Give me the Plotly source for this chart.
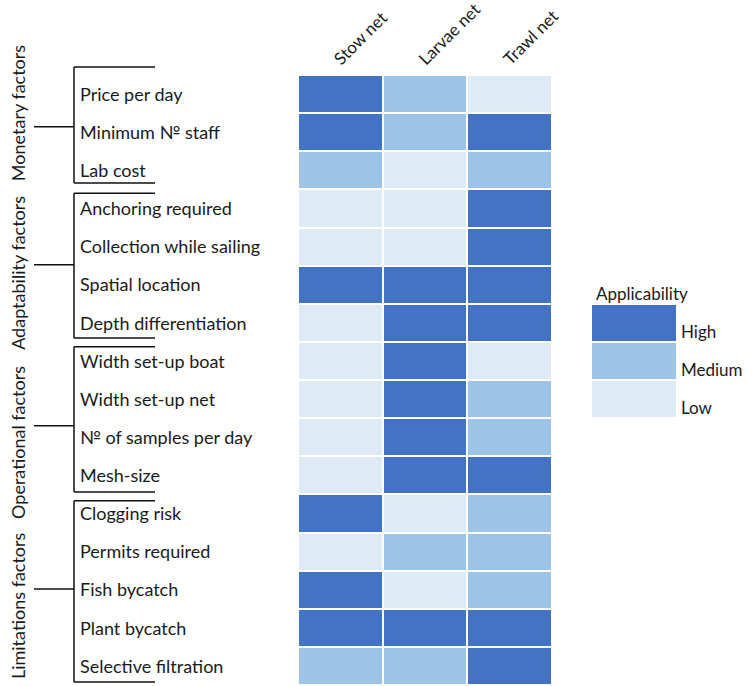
import plotly.graph_objects as go

# ---------------- data ----------------
columns = ["Stow net", "Larvae net", "Trawl net"]
factors = [
    "Price per day", "Minimum № staff", "Lab cost",
    "Anchoring required", "Collection while sailing", "Spatial location", "Depth differentiation",
    "Width set-up boat", "Width set-up net", "№ of samples per day", "Mesh-size",
    "Clogging risk", "Permits required", "Fish bycatch", "Plant bycatch", "Selective filtration",
]
# 3 = High, 2 = Medium, 1 = Low
stow_net   = [3, 3, 2, 1, 1, 3, 1, 1, 1, 1, 1, 3, 1, 3, 3, 2]
larvae_net = [2, 2, 1, 1, 1, 3, 3, 3, 3, 3, 3, 1, 2, 1, 3, 2]
trawl_net  = [1, 3, 2, 3, 3, 3, 3, 1, 2, 2, 3, 2, 2, 2, 3, 3]

groups = ["Monetary factors", "Adaptability factors", "Operational factors", "Limitations factors"]

levels = ["High", "Medium", "Low"]
level_values = [3, 2, 1]

# ---------------- styling / layout constants ----------------
W, H = 746, 686
C_HIGH, C_MED, C_LOW = "#4472C4", "#9DC3E6", "#DEEBF7"
FONT = "Lato"
TXT = "#1a1a1a"

hm_left, hm_right, hm_top, hm_bot = 298, 552, 75, 685
hm_dom_x = [hm_left / W, hm_right / W]
hm_dom_y = [(H - hm_bot) / H, (H - hm_top) / H]
n_rows = len(factors)
row_h = (hm_bot - hm_top) / n_rows

def px_to_row(p):
    return (p - hm_top) / row_h - 0.5

# bracket geometry (row units / pixel x)
br_top = [-0.71, 2.60, 6.63, 10.67]
br_bot = [2.33, 6.40, 10.44, 15.42]
br_mid = [0.86, 4.48, 8.70, 12.98]
grp_lab_y = [0.50, 4.69, 9.15, 13.43]
x_vert, x_hend, x_tick0, x_lab, x_glab = 74, 155, 34, 80, 18
lab_dy = 0.06

z = [[s, l, t] for s, l, t in zip(stow_net, larvae_net, trawl_net)]
cscale = [[0, C_LOW], [0.5, C_MED], [1, C_HIGH]]

fig = go.Figure()

fig.add_trace(go.Heatmap(
    z=z, x=list(range(len(columns))), y=list(range(n_rows)),
    zmin=1, zmax=3, colorscale=cscale, showscale=False,
    xgap=2, ygap=2, xaxis="x", yaxis="y", hoverinfo="skip",
))

# row labels on left panel
fig.add_trace(go.Scatter(
    x=[x_lab] * n_rows, y=[i + lab_dy for i in range(n_rows)], text=factors,
    mode="text", textposition="middle right",
    textfont=dict(family=FONT, size=18, color=TXT),
    xaxis="x2", yaxis="y2", hoverinfo="skip", showlegend=False,
))

# legend swatches
fig.add_trace(go.Heatmap(
    z=[[v] for v in level_values], x=[0], y=list(range(len(levels))),
    zmin=1, zmax=3, colorscale=cscale, showscale=False,
    ygap=2, xaxis="x3", yaxis="y3", hoverinfo="skip",
))

shapes = []
line = dict(color="#111111", width=1.5)
for i in range(len(groups)):
    shapes.append(dict(type="line", xref="x2", yref="y2", x0=x_vert, x1=x_vert, y0=br_top[i], y1=br_bot[i], line=line))
    shapes.append(dict(type="line", xref="x2", yref="y2", x0=x_vert, x1=x_hend, y0=br_top[i], y1=br_top[i], line=line))
    shapes.append(dict(type="line", xref="x2", yref="y2", x0=x_vert, x1=x_hend, y0=br_bot[i], y1=br_bot[i], line=line))
    shapes.append(dict(type="line", xref="x2", yref="y2", x0=x_tick0, x1=x_vert, y0=br_mid[i], y1=br_mid[i], line=line))

annotations = []
for i, g in enumerate(groups):
    annotations.append(dict(text=g, xref="x2", yref="y2", x=x_glab, y=grp_lab_y[i],
                            textangle=-90, showarrow=False,
                            font=dict(family=FONT, size=18, color=TXT)))
annotations.append(dict(text="Applicability", xref="paper", yref="paper",
                        x=594 / W, y=(H - 293) / H, xanchor="left", yanchor="middle",
                        showarrow=False, font=dict(family=FONT, size=17, color=TXT)))
for i, lv in enumerate(levels):
    annotations.append(dict(text=lv, xref="x3 domain", yref="y3", x=1.04, y=i + 0.23,
                            xanchor="left", yanchor="middle", showarrow=False,
                            font=dict(family=FONT, size=17, color=TXT)))

# y2 range aligned with heatmap rows
y2_range = [px_to_row(H), px_to_row(0)]

leg_dom_x = [592 / W, 676 / W]
leg_dom_y = [(H - 418) / H, (H - 304) / H]

fig.update_layout(
    width=W, height=H, autosize=False,
    margin=dict(l=0, r=0, t=0, b=0),
    paper_bgcolor="white", plot_bgcolor="white",
    showlegend=False,
    xaxis=dict(domain=hm_dom_x, range=[-0.5, len(columns) - 0.5], side="top",
               tickvals=list(range(len(columns))), ticktext=columns, tickangle=-45,
               showgrid=False, zeroline=False, showline=False, ticks="",
               tickfont=dict(family=FONT, size=17, color=TXT), anchor="y",
               ticklabelshift=-5, ticklabelstandoff=2,
               automargin=False),
    yaxis=dict(domain=hm_dom_y, range=[n_rows - 0.5, -0.5], showticklabels=False,
               showgrid=False, zeroline=False, showline=False, anchor="x",
               automargin=False),
    xaxis2=dict(domain=[0, hm_left / W], range=[0, hm_left], visible=False, anchor="y2",
                automargin=False),
    yaxis2=dict(domain=[0, 1], range=y2_range, visible=False, anchor="x2", automargin=False),
    xaxis3=dict(domain=leg_dom_x, range=[-0.5, 0.5], visible=False, anchor="y3",
                automargin=False),
    yaxis3=dict(domain=leg_dom_y, range=[len(levels) - 0.5, -0.5], visible=False,
                anchor="x3", automargin=False),
    shapes=shapes, annotations=annotations,
)

fig.write_html("out.html")
